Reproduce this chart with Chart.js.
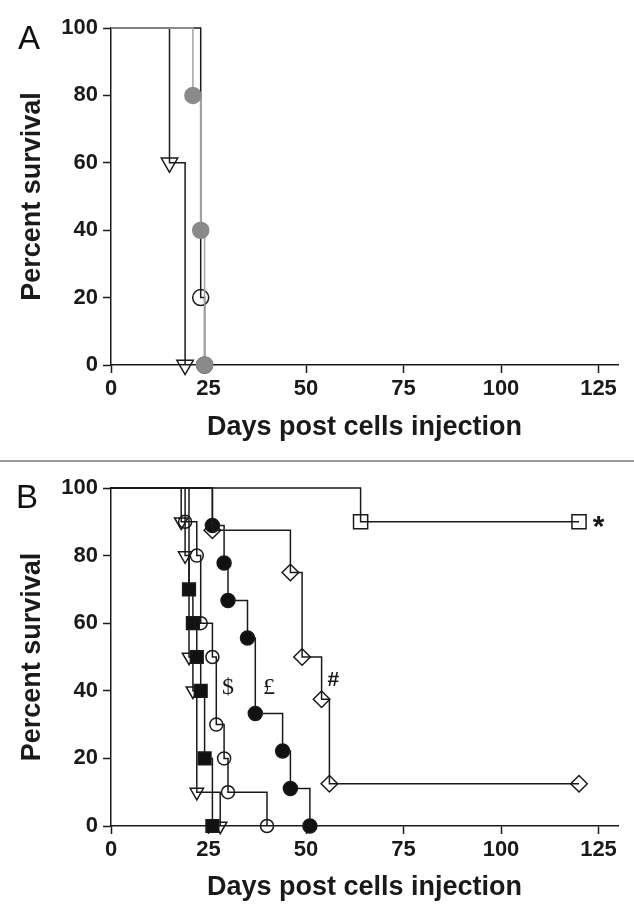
<!DOCTYPE html>
<html>
<head>
<meta charset="utf-8">
<script src="https://cdn.jsdelivr.net/npm/chart.js@4/dist/chart.umd.min.js"></script>
<style>
  body { margin: 0; background: #fff; }
  #page { position: relative; width: 634px; height: 922px; background: #fff; }
  .panel { position: absolute; left: 0; width: 634px; height: 460px; }
  #panelA { top: 0; }
  #panelB { top: 462px; }
  #sep { position: absolute; left: 0; top: 460px; width: 634px; height: 2px; background: #9a9a9a; }
  .letter { position: absolute; font-family: "Liberation Sans", Arial, sans-serif; font-size: 33px; line-height: 33px; color: #111; }
</style>
</head>
<body>
<div id="page">
  <div class="panel" id="panelA">
    <canvas id="chartA" width="634" height="460"></canvas>
    <div class="letter" style="left:18px; top:21px;">A</div>
  </div>
  <div id="sep"></div>
  <div class="panel" id="panelB">
    <canvas id="chartB" width="634" height="460"></canvas>
    <div class="letter" style="left:16px; top:18px;">B</div>
  </div>
</div>
<script>
// axes
const xTicks = [0, 25, 50, 75, 100, 125];
const yTicks = [0, 20, 40, 60, 80, 100];

// panel A
const aGrayDays = [0, 21, 23, 24];
const aGraySurv = [100, 80, 40, 0];
const aCircleDays = [0, 23, 24];
const aCircleSurv = [100, 20, 0];
const aTriDays = [0, 15, 19];
const aTriSurv = [100, 60, 0];

// panel B
const bSquareDays = [0, 64, 120];
const bSquareSurv = [100, 90, 90];
const bDiamondDays = [0, 26, 46, 49, 54, 56, 120];
const bDiamondSurv = [100, 87.5, 75, 50, 37.5, 12.5, 12.5];
const bDotDays = [0, 26, 29, 30, 35, 37, 44, 46, 51];
const bDotSurv = [100, 88.9, 77.8, 66.7, 55.6, 33.3, 22.2, 11.1, 0];
const bCircleDays = [0, 19, 22, 23, 26, 27, 29, 30, 40];
const bCircleSurv = [100, 90, 80, 60, 50, 30, 20, 10, 0];
const bBoxDays = [0, 20, 21, 22, 23, 24, 26];
const bBoxSurv = [100, 70, 60, 50, 40, 20, 0];
const bTriDays = [0, 18, 19, 20, 21, 22, 28];
const bTriSurv = [100, 90, 80, 50, 40, 10, 0];

// significance marks on B
const bNoteText = ['*', '$', '£', '#'];
const bNoteDays = [125, 30, 40.5, 57];
const bNoteSurv = [90, 41, 41, 43];

const ink = '#1a1a1a';
Chart.defaults.font.family = '"Liberation Sans", Arial, sans-serif';

function pts(days, surv) {
    return days.map((d, i) => ({ x: d, y: surv[i] }));
}

// one step curve, no marker on the starting point
function curve(days, surv, style) {
    return {
        data: pts(days, surv),
        stepped: 'before',
        borderColor: style.line || ink,
        borderWidth: 1.5,
        pointStyle: style.shape,
        pointRotation: style.rotation || 0,
        pointRadius: ctx => ctx.dataIndex === 0 ? 0 : style.r,
        pointHoverRadius: ctx => ctx.dataIndex === 0 ? 0 : style.r,
        pointBorderColor: style.edge || ink,
        pointBorderWidth: 1.5,
        pointBackgroundColor: style.fill || 'rgba(0,0,0,0)',
        clip: false
    };
}

const notesPlugin = {
    id: 'notes',
    afterDatasetsDraw(chart, args, opts) {
        const items = opts.items || [];
        const ctx = chart.ctx;
        const xs = chart.scales.x, ys = chart.scales.y;
        ctx.save();
        ctx.fillStyle = ink;
        ctx.textAlign = 'center';
        ctx.textBaseline = 'middle';
        items.forEach(it => {
            if (it.text === '*') ctx.font = 'bold 30px "Liberation Sans", Arial, sans-serif';
            else if (it.text === '#') ctx.font = 'bold 21px "Liberation Sans", Arial, sans-serif';
            else ctx.font = '24px "Liberation Serif", "DejaVu Serif", serif';
            const dy = it.text === '*' ? 6 : 0;
            ctx.fillText(it.text, xs.getPixelForValue(it.x), ys.getPixelForValue(it.y) + dy);
        });
        ctx.restore();
    }
};

function makeChart(id, datasets, cfg) {
    return new Chart(document.getElementById(id), {
        type: 'line',
        data: { datasets: datasets },
        plugins: [notesPlugin],
        options: {
            responsive: false,
            animation: false,
            layout: { padding: { left: 0, top: cfg.top, right: 16, bottom: 0 } },
            plugins: {
                legend: { display: false },
                tooltip: { enabled: false },
                notes: { items: cfg.notes || [] }
            },
            scales: {
                x: {
                    type: 'linear',
                    min: 0,
                    max: 130,
                    afterBuildTicks: s => { s.ticks = xTicks.map(v => ({ value: v })); },
                    afterFit: s => { s.height = cfg.xHeight; },
                    grid: { drawOnChartArea: false, tickLength: 8, tickColor: ink, tickWidth: 1.5 },
                    border: { color: ink, width: 1.5 },
                    ticks: { color: ink, font: { size: 22, weight: 'bold' }, padding: 3, maxRotation: 0, autoSkip: false },
                    title: {
                        display: true,
                        text: 'Days post cells injection',
                        color: ink,
                        font: { size: 27, weight: 'bold' },
                        padding: { top: 0, bottom: cfg.titlePad }
                    }
                },
                y: {
                    min: 0,
                    max: 100,
                    afterBuildTicks: s => { s.ticks = yTicks.map(v => ({ value: v })); },
                    afterFit: s => { s.width = 111; },
                    grid: { drawOnChartArea: false, tickLength: 8, tickColor: ink, tickWidth: 1.5 },
                    border: { color: ink, width: 1.5 },
                    ticks: { color: ink, font: { size: 22, weight: 'bold' }, padding: 5 },
                    title: {
                        display: true,
                        text: 'Percent survival',
                        color: ink,
                        font: { size: 27, weight: 'bold' },
                        padding: { top: 16, bottom: 0 }
                    }
                }
            }
        }
    });
}

makeChart('chartA', [
    curve(aGrayDays, aGraySurv, { shape: 'circle', r: 8, line: '#a3a3a3', edge: '#8a8a8a', fill: '#8a8a8a' }),
    curve(aCircleDays, aCircleSurv, { shape: 'circle', r: 8 }),
    curve(aTriDays, aTriSurv, { shape: 'triangle', rotation: 180, r: 9.5 })
], { top: 28, xHeight: 95, titlePad: 16 });

makeChart('chartB', [
    curve(bSquareDays, bSquareSurv, { shape: 'rect', r: 10 }),
    curve(bDiamondDays, bDiamondSurv, { shape: 'rectRot', r: 8.3 }),
    curve(bDotDays, bDotSurv, { shape: 'circle', r: 7, fill: '#111' }),
    curve(bCircleDays, bCircleSurv, { shape: 'circle', r: 6.5 }),
    curve(bBoxDays, bBoxSurv, { shape: 'rect', r: 9, fill: '#111' }),
    curve(bTriDays, bTriSurv, { shape: 'triangle', rotation: 180, r: 7.7 })
], {
    top: 26, xHeight: 96, titlePad: 18,
    notes: bNoteText.map((t, i) => ({ text: t, x: bNoteDays[i], y: bNoteSurv[i] }))
});
</script>
</body>
</html>
